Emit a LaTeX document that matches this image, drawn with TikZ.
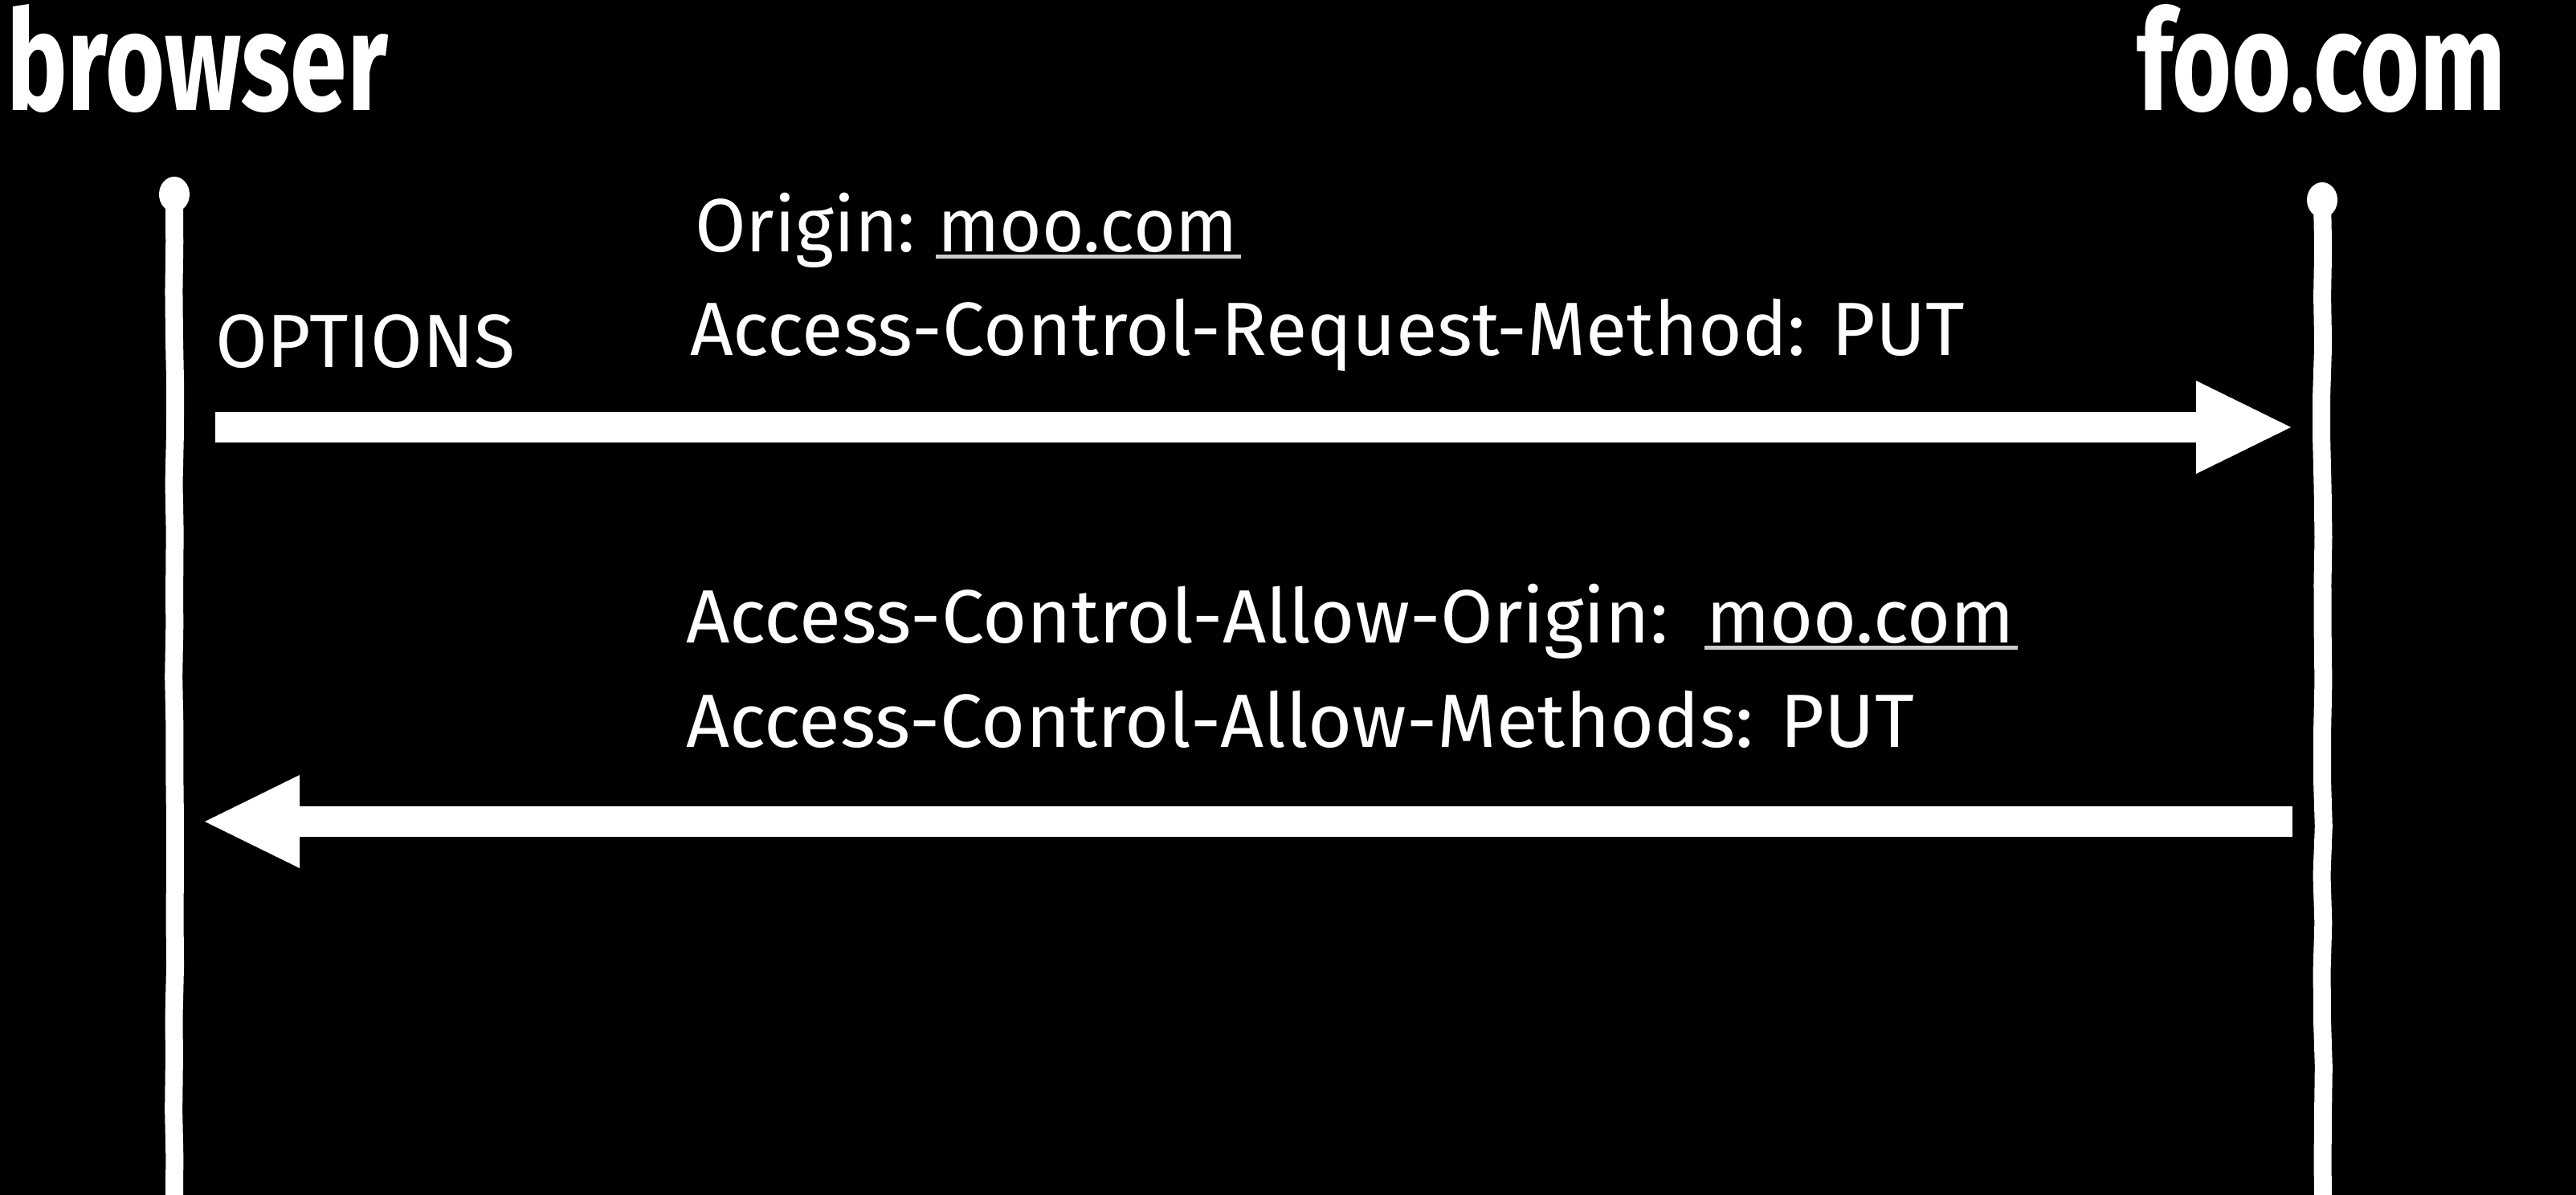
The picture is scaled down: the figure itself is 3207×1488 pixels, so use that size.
\documentclass[tikz,border=0pt]{standalone}
\usepackage{fontspec}
\setmainfont{Fira Sans}
\usepackage{graphicx}
\usetikzlibrary{arrows.meta,decorations.pathmorphing,shapes.geometric}

\newcommand{\fitw}[2]{\resizebox{#1}{\height}{#2}}
\newcommand{\fitwh}[3]{\resizebox{#1}{#2}{#3}}

\tikzset{
  lbl/.style={anchor=base west, inner sep=0pt, outer sep=0pt, text=white,
              font=\fontsize{94}{100}\selectfont},
  ttl/.style={anchor=base west, inner sep=0pt, outer sep=0pt, text=white,
              font=\fontsize{180}{190}\selectfont\bfseries},
  knob/.style={ellipse, fill=white, draw=none, inner sep=0pt,
               minimum width=38pt, minimum height=44pt},
  life/.style={draw=white, line width=22pt,
               decorate, decoration={random steps, segment length=60pt, amplitude=1.2pt}},
  msg/.style={draw=white, line width=38pt,
              -{Triangle[width=116pt, length=118pt, line width=0pt]}},
  ulfill/.style={fill=white!80!black}
}

\begin{document}
\begin{tikzpicture}[x=1pt, y=-1pt]
  \pgfmathsetseed{7}
  \useasboundingbox (0,0) rectangle (3207,1488);
  \fill[black] (0,0) rectangle (3207,1488);

  % titles
  \node[ttl] (browser) at (8,137) {\fitwh{475pt}{132pt}{browser}};
  \node[ttl] (foo) at (2660,137) {\fitwh{460pt}{132pt}{foo.com}};

  % lifelines
  \node[knob] (bknob) at (217,242) {};
  \node[knob] (fknob) at (2891,249) {};
  \coordinate (bend) at (217,1488);
  \coordinate (fend) at (2892,1488);
  \draw[life] (bknob.center) -- (bend);
  \draw[life] (fknob.center) -- (fend);

  % request
  \node[lbl] (opt) at (268,457) {\fitw{373pt}{OPTIONS}};
  \node[lbl] (orig) at (865,313) {\fitw{275pt}{Origin:}};
  \node[lbl] (moo1) at (1167,313) {\fitw{374pt}{moo.com}};
  \node[lbl] (acrm) at (859,442) {\fitw{1587pt}{Access-Control-Request-Method: PUT}};
  \fill[ulfill] ([shift={(-2pt,-4pt)}]moo1.base west) rectangle ([shift={(4pt,-9pt)}]moo1.base east);

  \coordinate (r1s) at (268,532);
  \coordinate (r1e) at (2852,532);
  \draw[msg] (r1s) -- (r1e);

  % response
  \node[lbl] (acao) at (854,800) {\fitw{1223pt}{Access-Control-Allow-Origin:}};
  \node[lbl] (moo2) at (2124,800) {\fitw{384pt}{moo.com}};
  \node[lbl] (acam) at (854,930) {\fitw{1529pt}{Access-Control-Allow-Methods: PUT}};
  \fill[ulfill] ([shift={(-2pt,-4pt)}]moo2.base west) rectangle ([shift={(4pt,-9pt)}]moo2.base east);

  \coordinate (r2s) at (2854,1023);
  \coordinate (r2e) at (255,1023);
  \draw[msg] (r2s) -- (r2e);
\end{tikzpicture}
\end{document}
